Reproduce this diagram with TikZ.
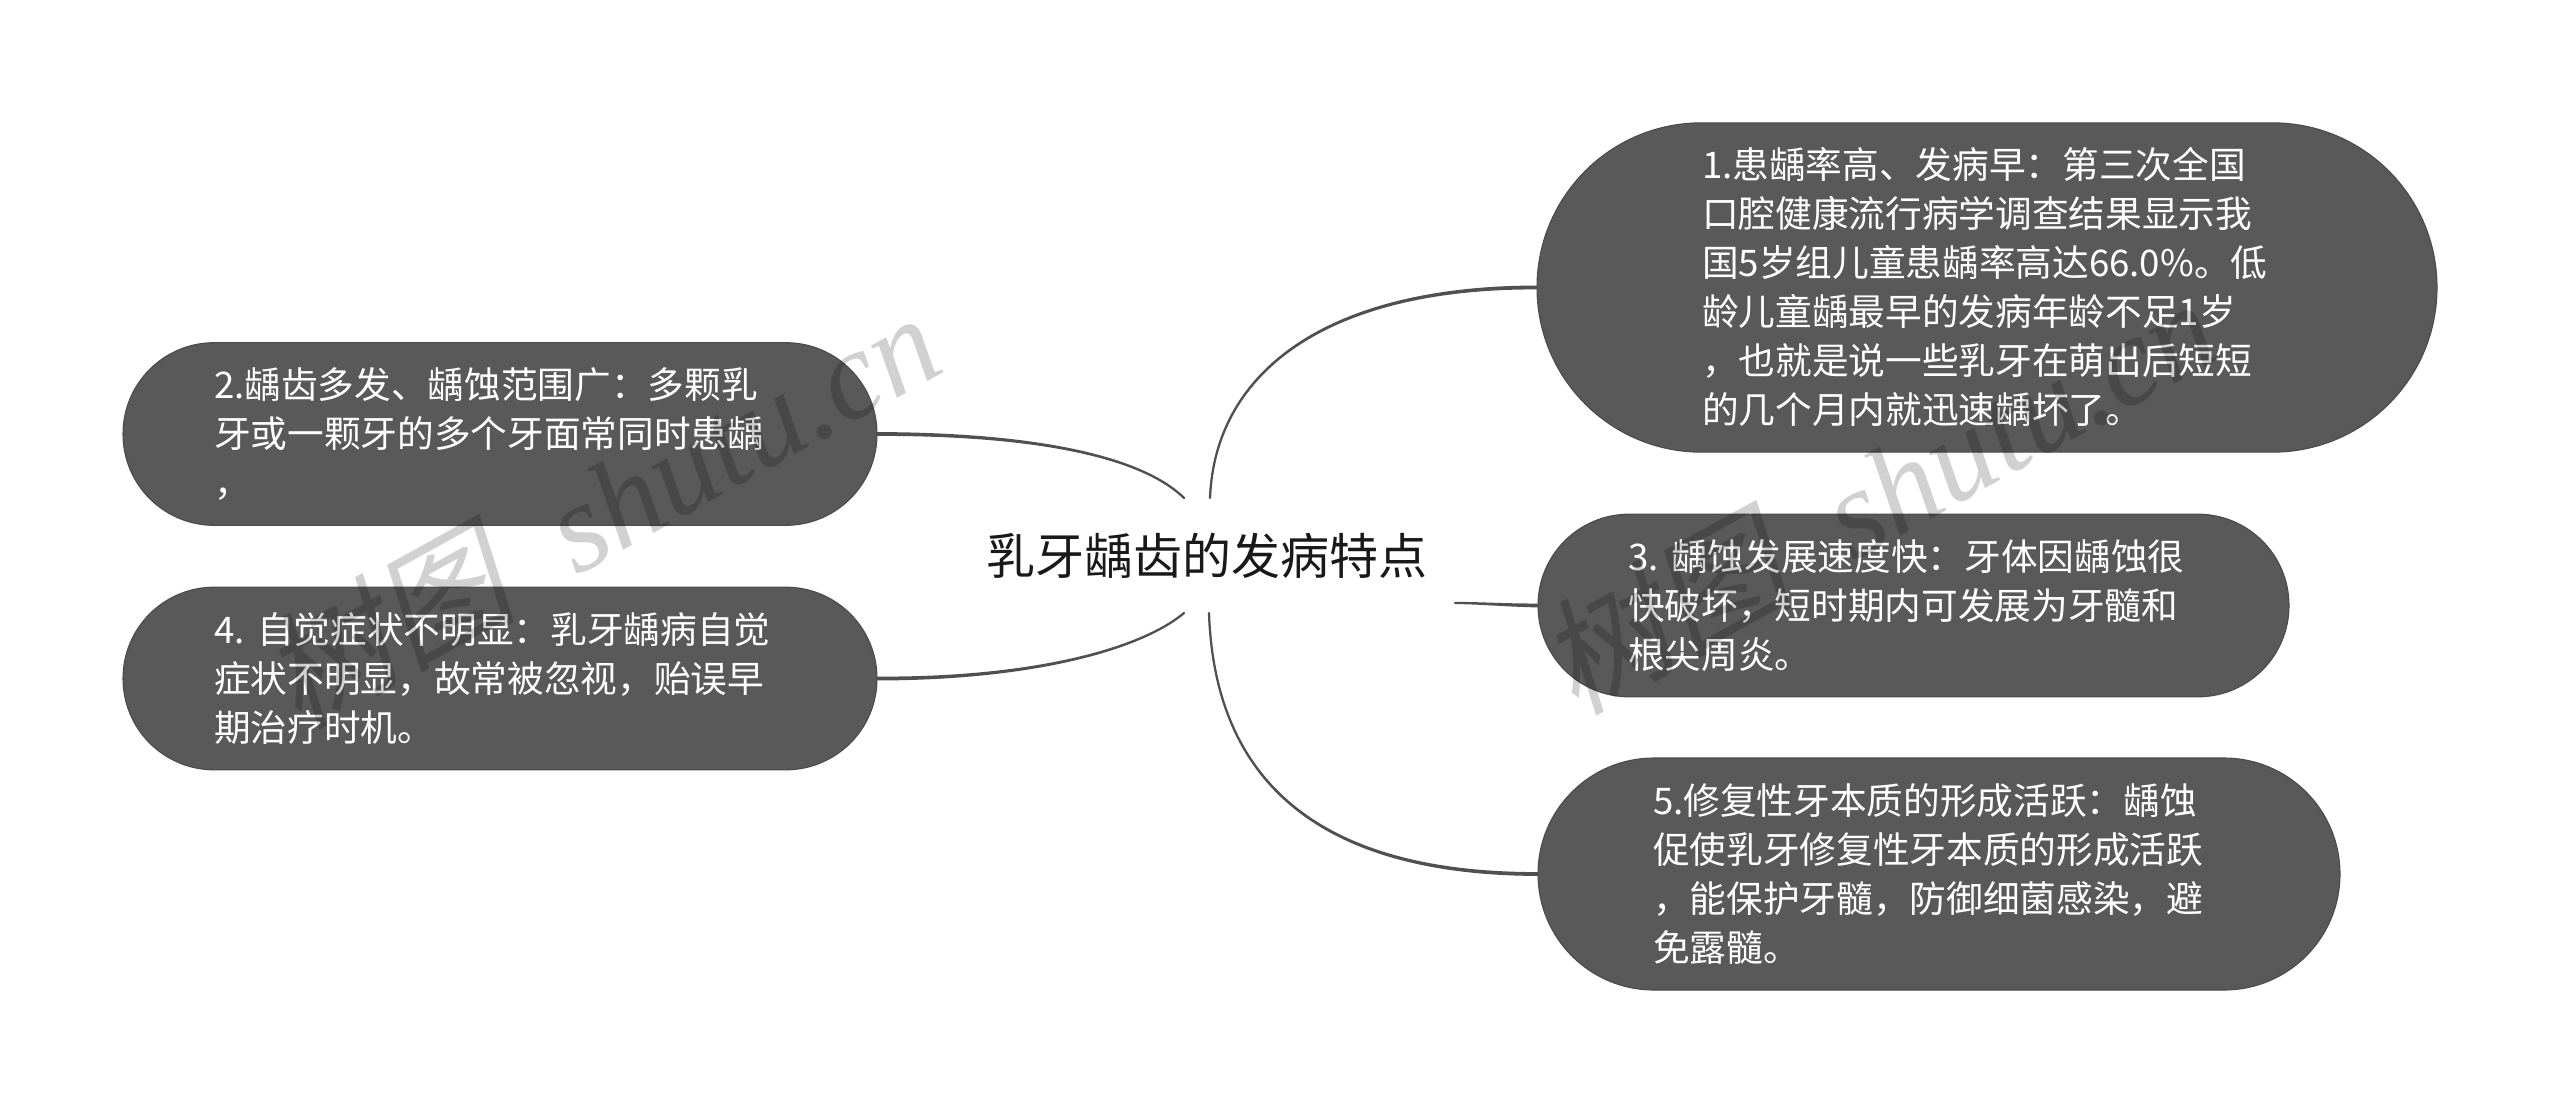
\documentclass[tikz,border=0pt]{standalone}
\usepackage{fontspec}
\setmainfont{Noto Sans CJK SC}
\newfontfamily\wmfont{Liberation Serif}
\newfontfamily\wmcjk{Noto Sans CJK SC}[FakeSlant=0.2]
\definecolor{boxfill}{HTML}{595959}
\definecolor{boxedge}{HTML}{4A4A4A}
\definecolor{linkcol}{HTML}{505050}
\tikzset{
  x=0.75pt,y=-0.75pt,
  leaf/.style={draw=boxedge,line width=0.8pt,fill=boxfill,text=white,outer sep=0pt,inner ysep=0pt,
    align=left,font=\fontsize{27.5pt}{36.75pt}\selectfont},
  leafA/.style={leaf,minimum width=675pt,minimum height=247pt,rounded corners=123.4pt,inner xsep=123.75pt,text width=427.5pt},
  leafB/.style={leaf,minimum width=565.5pt,minimum height=137pt,rounded corners=68.4pt,inner xsep=68.25pt,text width=429pt},
  leafC/.style={leaf,minimum width=563.25pt,minimum height=137pt,rounded corners=68.4pt,inner xsep=67.5pt,text width=428.25pt},
  leafD/.style={leaf,minimum width=601.5pt,minimum height=174pt,rounded corners=86.9pt,inner xsep=86.25pt,text width=429pt},
  link/.style={fill=linkcol,draw=linkcol,line width=1.7pt,line join=round},
  watermark/.style={text=black,text opacity=0.18,rotate=29,anchor=base,inner sep=0pt,
    font=\wmfont\itshape\fontsize{95pt}{95pt}\selectfont},
}
\newcommand{\ls}{\rule[-7.95pt]{0pt}{36.75pt}}
\newcommand{\taper}[4]{%
  \filldraw[link] ([yshift=0.6pt]#1) .. controls ([yshift=0.3pt]#2) and (#3) .. (#4)
    .. controls (#3) and ([yshift=-0.3pt]#2) .. ([yshift=-0.6pt]#1) -- cycle;}
\begin{document}
\begin{tikzpicture}
\useasboundingbox (0,0) rectangle (2560,1113);
\fill[white] (0,0) rectangle (2560,1113);
\node[leafA] (n1) at (1987,287.5) {\ls 1.患龋率高、发病早：第三次全国\\口腔健康流行病学调查结果显示我\\国5岁组儿童患龋率高达66.0\%。低\\龄儿童龋最早的发病年龄不足1岁\\，也就是说一些乳牙在萌出后短短\\的几个月内就迅速龋坏了。\ls};
\node[leafB] (n2) at (500,434) {\ls 2.龋齿多发、龋蚀范围广：多颗乳\\牙或一颗牙的多个牙面常同时患龋\\，\ls};
\node[leafB] (n4) at (500,678.5) {\ls 4.\hspace{9.5pt}自觉症状不明显：乳牙龋病自觉\\症状不明显，故常被忽视，贻误早\\期治疗时机。\ls};
\node[leafC] (n3) at (1913.5,605.5) {\ls 3.\hspace{9.5pt}龋蚀发展速度快：牙体因龋蚀很\\快破坏，短时期内可发展为牙髓和\\根尖周炎。\ls};
\node[leafD] (n5) at (1939,874) {\ls 5.修复性牙本质的形成活跃：龋蚀\\促使乳牙修复性牙本质的形成活跃\\，能保护牙髓，防御细菌感染，避\\免露髓。\ls};
\node[inner sep=0pt,font=\fontsize{36.75pt}{40pt}\selectfont,text=black!90] (root) at (1207,556) {乳牙龋齿的发病特点};
% connector ends beside the root
\coordinate (r1) at (1210,498);
\coordinate (r2) at (1184,498);
\coordinate (r3) at (1455,603);
\coordinate (r4) at (1184,613);
\coordinate (r5) at (1209,613);
\coordinate (c1a) at (1330,287); \coordinate (c1b) at (1215,370);
\coordinate (c2a) at (1030,434); \coordinate (c2b) at (1140,455);
\coordinate (c3a) at (1500,605); \coordinate (c3b) at (1480,603);
\coordinate (c4a) at (1030,679); \coordinate (c4b) at (1140,650);
\coordinate (c5a) at (1330,874); \coordinate (c5b) at (1215,790);
\taper{n1.west}{c1a}{c1b}{r1}
\taper{n2.east}{c2a}{c2b}{r2}
\taper{n3.west}{c3a}{c3b}{r3}
\taper{n4.east}{c4a}{c4b}{r4}
\taper{n5.west}{c5a}{c5b}{r5}
\node[watermark] (wmL) at (623.5,550) {{\wmcjk\upshape 树图}\hspace{48pt}shutu.cn};
\node[watermark] (wmR) at (1900.5,536) {{\wmcjk\upshape 树图}\hspace{48pt}shutu.cn};
\end{tikzpicture}
\end{document}
